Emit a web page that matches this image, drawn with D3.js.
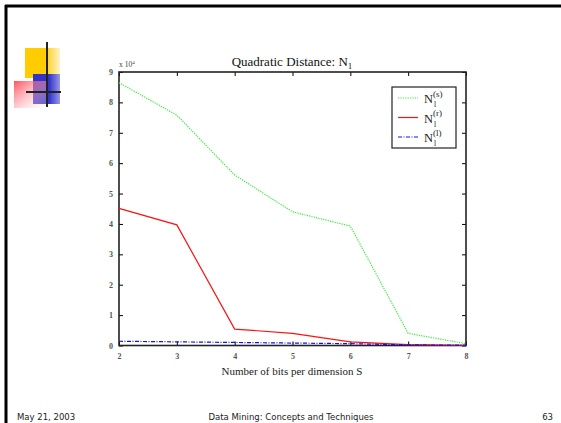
<!DOCTYPE html>
<html><head><meta charset="utf-8">
<script src="https://d3js.org/d3.v7.min.js"></script>
<style>body{margin:0;background:#fff;}svg{display:block;}</style>
</head><body>
<script>
const bits = [2, 3, 4, 5, 6, 7, 8];
const seriesS = [8.65, 7.58, 5.61, 4.40, 3.93, 0.40, 0.06];
const seriesR = [4.51, 3.97, 0.54, 0.40, 0.12, 0.03, 0.0];
const seriesL = [0.14, 0.12, 0.10, 0.08, 0.06, 0.02, 0.01];
const yTicks = [0, 1, 2, 3, 4, 5, 6, 7, 8, 9];
const xTicks = [2, 3, 4, 5, 6, 7, 8];
const legendLabels = ["(s)", "(r)", "(l)"];

const W = 561, H = 423;
const svg = d3.select("body").append("svg").attr("width", W).attr("height", H);

// slide border
svg.append("line").attr("x1", 5).attr("x2", W).attr("y1", 6).attr("y2", 6).attr("stroke", "#000").attr("stroke-width", 3);
svg.append("line").attr("x1", 6).attr("x2", 6).attr("y1", 5).attr("y2", H).attr("stroke", "#000").attr("stroke-width", 3);

// logo
const defs = svg.append("defs");
function grad(id, x2, y2, stops) {
  const g = defs.append("linearGradient").attr("id", id).attr("x1", 0).attr("y1", 0).attr("x2", x2).attr("y2", y2);
  stops.forEach(s => g.append("stop").attr("offset", s[0]).attr("stop-color", s[1]).attr("stop-opacity", s[2] == null ? 1 : s[2]));
}
grad("gy", 1, 0, [[0, "#ffcc00"], [0.55, "#ffcc00"], [1, "#fff2cc"]]);
grad("gb", 1, 0, [[0, "#3333cc"], [0.6, "#3333cc"], [1, "#9999e6"]]);
grad("gp", 1, 1, [[0, "#ff3344", 0.85], [1, "#ffffff", 0.2]]);
svg.append("rect").attr("x", 25).attr("y", 48).attr("width", 35).attr("height", 30).attr("fill", "url(#gy)");
svg.append("rect").attr("x", 33).attr("y", 74).attr("width", 27).attr("height", 30).attr("fill", "url(#gb)");
svg.append("rect").attr("x", 14).attr("y", 81).attr("width", 34).attr("height", 27).attr("fill", "url(#gp)");
svg.append("line").attr("x1", 47).attr("x2", 47).attr("y1", 42).attr("y2", 107).attr("stroke", "#222").attr("stroke-width", 2);
svg.append("line").attr("x1", 26).attr("x2", 61).attr("y1", 92).attr("y2", 92).attr("stroke", "#222").attr("stroke-width", 2);

// chart
const L = 119, R = 466, T = 72, B = 345.5;
const x = d3.scaleLinear().domain([2, 8]).range([L, R]);
const y = d3.scaleLinear().domain([0, 9]).range([B, T]);
const serif = "'Liberation Serif', 'Times New Roman', serif";

const g = svg.append("g");
g.append("g").attr("transform", `translate(0,${B})`)
  .call(d3.axisBottom(x).tickValues(xTicks).tickSizeInner(-4).tickSizeOuter(0).tickPadding(8).tickFormat(d3.format("d")))
  .call(s => { s.select(".domain").remove(); s.selectAll("text").attr("font-family", serif).attr("font-size", 8).attr("font-weight", "bold").attr("fill", "#555"); });
g.append("g").attr("transform", `translate(0,${T})`)
  .call(d3.axisTop(x).tickValues(xTicks).tickSizeInner(-4).tickSizeOuter(0).tickFormat(""))
  .call(s => { s.select(".domain").remove(); });
g.append("g").attr("transform", `translate(${L},0)`)
  .call(d3.axisLeft(y).tickValues(yTicks).tickSizeInner(-4).tickSizeOuter(0).tickPadding(6).tickFormat(d3.format("d")))
  .call(s => { s.select(".domain").remove(); s.selectAll("text").attr("font-family", serif).attr("font-size", 8).attr("font-weight", "bold").attr("fill", "#555"); });
g.append("g").attr("transform", `translate(${R},0)`)
  .call(d3.axisRight(y).tickValues(yTicks).tickSizeInner(-4).tickSizeOuter(0).tickFormat(""))
  .call(s => { s.select(".domain").remove(); });

svg.append("rect").attr("x", L).attr("y", T).attr("width", R - L).attr("height", B - T)
  .attr("fill", "none").attr("stroke", "#222").attr("stroke-width", 1.6);

// exponent label
const ex = svg.append("text").attr("x", L).attr("y", 67).attr("font-family", serif).attr("font-size", 7.5).attr("fill", "#444");
ex.append("tspan").text("x 10");
ex.append("tspan").attr("dy", -3.5).attr("font-size", 5).text("4");

// lines
const line = d3.line().x((d, i) => x(bits[i])).y(d => y(d));
const styles = [
  { data: seriesS, color: "#33ee33", dash: "1.2,1.2" },
  { data: seriesR, color: "#ff1111", dash: null },
  { data: seriesL, color: "#1111ee", dash: "4,1.5,1,1.5" }
];
styles.forEach(s => {
  svg.append("path").datum(s.data).attr("d", line).attr("fill", "none")
    .attr("stroke", s.color).attr("stroke-width", 1.2).attr("stroke-dasharray", s.dash);
});

// title
const tt = svg.append("text").attr("x", 292).attr("y", 66).attr("text-anchor", "middle")
  .attr("font-family", serif).attr("font-size", 13).attr("fill", "#111");
tt.append("tspan").text("Quadratic Distance: N");
tt.append("tspan").attr("dy", 3).attr("font-size", 9).text("1");

// x label
svg.append("text").attr("x", 292).attr("y", 375).attr("text-anchor", "middle")
  .attr("font-family", serif).attr("font-size", 11).attr("fill", "#222").text("Number of bits per dimension S");

// legend
const lg = svg.append("g");
lg.append("rect").attr("x", 392).attr("y", 87).attr("width", 64).attr("height", 61)
  .attr("fill", "#fff").attr("stroke", "#222").attr("stroke-width", 1.2);
styles.forEach((s, i) => {
  const yy = 98 + i * 19.5;
  lg.append("line").attr("x1", 398).attr("x2", 418).attr("y1", yy).attr("y2", yy)
    .attr("stroke", s.color).attr("stroke-width", 1.2).attr("stroke-dasharray", s.dash);
  lg.append("text").attr("x", 424).attr("y", yy + 5).attr("font-family", serif).attr("font-size", 12.5).attr("fill", "#222").text("N");
  lg.append("text").attr("x", 433).attr("y", yy - 1.5).attr("font-family", serif).attr("font-size", 9).attr("fill", "#222").text(legendLabels[i]);
  lg.append("text").attr("x", 434).attr("y", yy + 9).attr("font-family", serif).attr("font-size", 7.5).attr("fill", "#222").text("l");
});

// footer
const sans = "Verdana, 'DejaVu Sans', sans-serif";
svg.append("text").attr("x", 17).attr("y", 420).attr("font-family", sans).attr("font-size", 8.5).attr("fill", "#222").text("May 21, 2003");
svg.append("text").attr("x", 291).attr("y", 420).attr("text-anchor", "middle").attr("font-family", sans).attr("font-size", 8.5).attr("fill", "#222").text("Data Mining: Concepts and Techniques");
svg.append("text").attr("x", 553).attr("y", 420).attr("text-anchor", "end").attr("font-family", sans).attr("font-size", 8.5).attr("fill", "#222").text("63");
</script>
</body></html>
